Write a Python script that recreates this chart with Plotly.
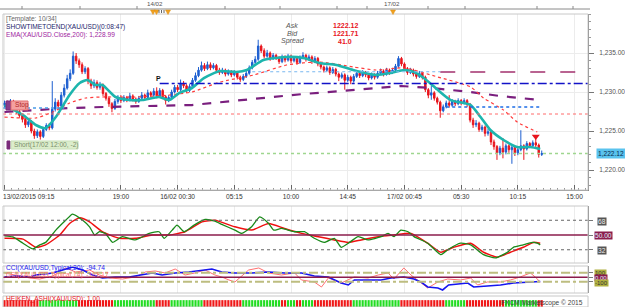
import plotly.graph_objects as go

W, H = 625, 307
def px(x): return x / W
def py(y): return 1 - y / H

FONT = "Liberation Sans, Arial, sans-serif"
X0, X1 = 3, 588
XR = [-0.5, 195.5]

# ---------------- data ----------------
tick_idx = [0, 39, 58, 77, 96, 115, 134, 153, 172, 191]
tick_text = ["13/02/2015 09:15", "19:00", "16/02 00:30", "05:15", "10:00",
             "14:45", "17/02 00:45", "05:30", "10:15", "15:00"]
price_ticks = [1220, 1225, 1230, 1235]
price_tick_text = ["1,220.00", "1,225.00", "1,230.00", "1,235.00"]

opens = [
1228.3, 1228.6, 1228.3, 1228.8, 1228.2, 1227.5, 1227.0, 1226.5, 1225.8, 1226.2,
1225.0, 1224.4, 1224.9, 1224.3, 1225.2, 1225.7, 1225.4, 1227.8, 1228.7, 1228.2,
1229.6, 1230.5, 1231.7, 1232.4, 1234.6, 1234.0, 1233.5, 1232.6, 1233.0, 1231.4,
1230.8, 1231.2, 1230.6, 1230.9, 1229.8, 1229.2, 1228.5, 1227.9, 1228.8, 1229.3,
1228.9, 1229.3, 1229.0, 1229.5, 1229.1, 1228.8, 1229.2, 1229.6, 1229.3, 1229.9,
1229.6, 1230.1, 1229.5, 1230.2, 1229.4, 1228.9, 1229.3, 1230.0, 1230.6, 1230.3,
1231.1, 1230.8, 1230.2, 1230.7, 1231.5, 1232.1, 1232.8, 1233.4, 1233.0, 1233.5,
1233.1, 1233.4, 1232.8, 1232.5, 1232.8, 1232.3, 1232.6, 1232.2, 1232.5, 1231.9,
1231.6, 1232.0, 1232.4, 1233.1, 1233.8, 1234.2, 1235.9, 1235.3, 1234.6, 1235.0,
1234.3, 1234.7, 1234.4, 1233.9, 1234.5, 1234.1, 1234.6, 1234.0, 1234.3, 1233.8,
1234.4, 1234.7, 1234.2, 1234.5, 1233.9, 1234.3, 1233.6, 1233.2, 1232.8, 1233.1,
1232.5, 1232.9, 1232.3, 1231.9, 1232.2, 1231.5, 1231.9, 1231.4, 1232.0, 1232.4,
1232.1, 1232.5, 1232.2, 1231.8, 1232.2, 1231.9, 1232.4, 1232.7, 1232.3, 1232.8,
1232.5, 1232.8, 1233.3, 1234.3, 1233.6, 1233.0, 1232.5, 1232.8, 1232.3, 1232.0,
1232.4, 1231.9, 1230.3, 1229.6, 1229.9, 1229.2, 1228.7, 1227.6, 1228.1, 1228.6,
1228.3, 1228.8, 1228.5, 1228.9, 1228.6, 1228.9, 1228.4, 1226.4, 1225.8, 1226.0,
1225.2, 1225.5, 1224.7, 1224.9, 1223.6, 1223.0, 1222.2, 1222.8, 1222.3, 1223.1,
1222.6, 1222.9, 1222.2, 1222.6, 1223.1, 1222.7, 1223.4, 1223.1, 1223.5, 1223.2,
1222.0]
highs = [
1228.9, 1228.9, 1229.1, 1229.0, 1228.4, 1227.8, 1227.2, 1226.7, 1226.5, 1226.4,
1225.3, 1225.2, 1225.1, 1225.5, 1226.0, 1226.0, 1231.4, 1229.2, 1229.0, 1230.0,
1231.0, 1232.2, 1232.9, 1235.2, 1235.0, 1234.3, 1233.8, 1233.3, 1233.2, 1231.7,
1231.6, 1231.5, 1231.3, 1231.1, 1230.0, 1229.4, 1228.7, 1229.1, 1229.6, 1229.6,
1229.6, 1229.5, 1229.9, 1229.7, 1229.3, 1229.5, 1230.0, 1229.8, 1230.3, 1230.1,
1230.5, 1230.6, 1230.5, 1230.4, 1229.6, 1229.6, 1230.3, 1230.9, 1230.9, 1231.6,
1231.4, 1231.0, 1231.0, 1231.8, 1232.5, 1233.2, 1233.9, 1233.7, 1233.9, 1233.8,
1233.7, 1233.6, 1233.1, 1233.1, 1233.0, 1232.9, 1232.8, 1232.8, 1232.7, 1232.1,
1232.3, 1232.7, 1233.4, 1234.1, 1234.6, 1236.7, 1236.1, 1235.6, 1235.4, 1235.2,
1235.0, 1234.9, 1234.6, 1234.8, 1234.7, 1234.9, 1234.8, 1234.6, 1234.5, 1234.7,
1235.1, 1234.9, 1234.8, 1234.7, 1234.6, 1234.5, 1233.8, 1233.4, 1233.4, 1233.3,
1233.2, 1233.1, 1232.5, 1232.5, 1232.4, 1232.2, 1232.1, 1232.3, 1232.7, 1232.6,
1232.8, 1232.7, 1232.4, 1232.5, 1232.4, 1232.7, 1233.0, 1232.9, 1233.1, 1233.0,
1233.1, 1233.6, 1234.6, 1234.5, 1233.8, 1233.2, 1233.1, 1233.0, 1232.5, 1232.7,
1232.6, 1232.1, 1230.5, 1230.8, 1230.1, 1229.4, 1228.9, 1228.4, 1228.9, 1229.6,
1229.1, 1229.0, 1229.2, 1229.1, 1229.2, 1229.1, 1228.6, 1226.7, 1226.4, 1226.2,
1225.8, 1225.7, 1225.3, 1225.1, 1223.9, 1223.2, 1223.1, 1224.1, 1223.4, 1223.3,
1223.2, 1223.1, 1222.9, 1225.1, 1223.3, 1223.7, 1223.6, 1223.8, 1224.0, 1223.4,
1222.5]
lows = [
1228.0, 1228.0, 1228.1, 1227.9, 1227.2, 1226.7, 1226.1, 1225.4, 1225.5, 1224.7,
1224.0, 1224.1, 1223.9, 1224.1, 1225.0, 1225.1, 1225.2, 1227.5, 1227.8, 1228.0,
1229.3, 1230.3, 1231.4, 1232.2, 1233.6, 1233.1, 1232.3, 1232.3, 1231.0, 1230.4,
1230.5, 1230.3, 1230.3, 1229.5, 1228.9, 1228.1, 1227.4, 1227.7, 1228.5, 1228.6,
1228.7, 1228.7, 1228.8, 1228.8, 1228.5, 1228.6, 1229.0, 1229.0, 1229.1, 1229.3,
1229.4, 1229.2, 1229.3, 1229.1, 1228.4, 1228.7, 1229.1, 1229.8, 1230.0, 1230.1,
1230.5, 1229.9, 1230.0, 1230.5, 1231.3, 1231.9, 1232.6, 1232.7, 1232.8, 1232.8,
1232.9, 1232.5, 1232.2, 1232.3, 1232.0, 1232.1, 1231.9, 1232.0, 1231.6, 1231.3,
1231.4, 1231.8, 1232.2, 1232.9, 1233.6, 1234.0, 1235.0, 1234.3, 1234.4, 1234.0,
1234.1, 1234.1, 1233.6, 1233.7, 1233.8, 1233.9, 1233.7, 1233.8, 1233.5, 1233.6,
1234.2, 1233.9, 1234.0, 1233.6, 1233.7, 1233.3, 1232.9, 1232.5, 1232.6, 1232.2,
1232.3, 1232.0, 1231.4, 1231.7, 1230.3, 1231.3, 1231.0, 1231.2, 1231.8, 1231.8,
1231.9, 1231.9, 1231.5, 1231.6, 1231.6, 1231.7, 1232.2, 1232.0, 1232.1, 1232.2,
1232.3, 1232.6, 1233.1, 1233.3, 1232.7, 1232.2, 1232.3, 1232.0, 1231.7, 1231.8,
1231.6, 1230.0, 1229.2, 1229.0, 1228.9, 1228.4, 1226.7, 1227.4, 1227.9, 1228.0,
1228.1, 1228.2, 1228.3, 1228.3, 1228.4, 1228.1, 1226.1, 1225.4, 1225.5, 1224.9,
1224.9, 1224.3, 1224.4, 1223.2, 1222.6, 1221.3, 1221.9, 1221.5, 1222.0, 1222.2,
1220.8, 1221.8, 1221.9, 1222.4, 1221.3, 1222.5, 1222.8, 1222.9, 1222.9, 1221.6,
1221.8]
closes = [
1228.6, 1228.3, 1228.8, 1228.2, 1227.5, 1227.0, 1226.5, 1225.8, 1226.2, 1225.0,
1224.4, 1224.9, 1224.3, 1225.2, 1225.7, 1225.4, 1227.8, 1228.7, 1228.2, 1229.6,
1230.5, 1231.7, 1232.4, 1234.6, 1234.0, 1233.5, 1232.6, 1233.0, 1231.4, 1230.8,
1231.2, 1230.6, 1230.9, 1229.8, 1229.2, 1228.5, 1227.9, 1228.8, 1229.3, 1228.9,
1229.3, 1229.0, 1229.5, 1229.1, 1228.8, 1229.2, 1229.6, 1229.3, 1229.9, 1229.6,
1230.1, 1229.5, 1230.2, 1229.4, 1228.9, 1229.3, 1230.0, 1230.6, 1230.3, 1231.1,
1230.8, 1230.2, 1230.7, 1231.5, 1232.1, 1232.8, 1233.4, 1233.0, 1233.5, 1233.1,
1233.4, 1232.8, 1232.5, 1232.8, 1232.3, 1232.6, 1232.2, 1232.5, 1231.9, 1231.6,
1232.0, 1232.4, 1233.1, 1233.8, 1234.2, 1235.9, 1235.3, 1234.6, 1235.0, 1234.3,
1234.7, 1234.4, 1233.9, 1234.5, 1234.1, 1234.6, 1234.0, 1234.3, 1233.8, 1234.4,
1234.7, 1234.2, 1234.5, 1233.9, 1234.3, 1233.6, 1233.2, 1232.8, 1233.1, 1232.5,
1232.9, 1232.3, 1231.9, 1232.2, 1231.5, 1231.9, 1231.4, 1232.0, 1232.4, 1232.1,
1232.5, 1232.2, 1231.8, 1232.2, 1231.9, 1232.4, 1232.7, 1232.3, 1232.8, 1232.5,
1232.8, 1233.3, 1234.3, 1233.6, 1233.0, 1232.5, 1232.8, 1232.3, 1232.0, 1232.4,
1231.9, 1230.3, 1229.6, 1229.9, 1229.2, 1228.7, 1227.6, 1228.1, 1228.6, 1228.3,
1228.8, 1228.5, 1228.9, 1228.6, 1228.9, 1228.4, 1226.4, 1225.8, 1226.0, 1225.2,
1225.5, 1224.7, 1224.9, 1223.6, 1223.0, 1222.2, 1222.8, 1222.3, 1223.1, 1222.6,
1222.9, 1222.2, 1222.6, 1223.1, 1222.7, 1223.4, 1223.1, 1223.5, 1223.2, 1222.0,
1222.12]

# short EMA (cyan)
ema_fast_i = [0, 6.2, 10.5, 13.8, 17.2, 21.8, 25.2, 27.8, 30.5, 32.8, 37.2, 41.8, 46.2,
              51.8, 55.2, 58.5, 62.8, 66.8, 72.2, 77.8, 81.2, 86.8, 94.5, 100.2, 105.5,
              111.2, 116.8, 124.5, 129.5, 133.8, 137.2, 140.5, 145.2, 149.5, 156.2,
              159.5, 162.8, 167.2, 171.8, 176.2, 179.5]
ema_fast_v = [1228.33, 1227.05, 1225.77, 1225.38, 1226.79, 1229.62, 1231.15, 1231.54,
              1230.90, 1230.90, 1229.36, 1228.97, 1228.97, 1229.36, 1228.97, 1229.87,
              1230.51, 1231.79, 1232.69, 1232.56, 1232.82, 1234.10, 1234.49, 1234.36,
              1233.72, 1233.46, 1232.82, 1232.18, 1232.44, 1232.82, 1232.56, 1231.79,
              1230.26, 1228.97, 1228.33, 1226.79, 1225.13, 1223.85, 1222.95, 1222.95,
              1222.69]
# medium EMA (red dotted)
ema_mid_i = [0, 10.5, 16.2, 21.8, 27.2, 32.8, 43.8, 55.2, 62.8, 72.2, 83.5, 94.5,
             105.5, 116.8, 124.5, 133.8, 145.2, 156.2, 160.5, 167.2, 171.8, 178.5]
ema_mid_v = [1226.79, 1226.67, 1227.44, 1228.59, 1229.23, 1229.36, 1229.36, 1229.62,
             1230.0, 1231.28, 1232.18, 1233.46, 1233.85, 1233.21, 1232.82, 1233.08,
             1231.92, 1230.64, 1229.23, 1227.69, 1226.15, 1224.87]
# EMA 200 (purple dashed)
ema200_i = [0, 10.5, 22, 33, 50, 62.8, 83, 100, 113, 124.5, 133, 143, 156.2, 166, 179]
ema200_v = [1227.44, 1227.69, 1227.95, 1228.08, 1228.21, 1228.33, 1229.1, 1229.74,
            1230.13, 1230.51, 1230.77, 1230.51, 1230.0, 1229.49, 1228.99]

# oscillator pane (green fast / red slow)
osc_fast_i = [0, 2.8, 6.2, 9.5, 11.8, 13.8, 17.2, 20.5, 22.8, 26.2, 28.5, 30.2, 31.8,
              33.8, 36.2, 39.5, 43.8, 48.5, 51.8, 53.5, 56.2, 57.8, 60.2, 63.5, 67.2,
              70.5, 72.8, 77.2, 79.5, 82.8, 85.5, 88.5, 90.2, 92.8, 97.2, 100.5, 103.8,
              107.2, 110.5, 112.8, 115.2, 118.5, 121.8, 126.2, 128.5, 130.5, 132.8,
              135.2, 137.2, 141.8, 146.2, 148.5, 152.8, 156.2, 160.5, 164.5, 168.5,
              170.5, 173.8, 176.8, 178.5, 179.5]
osc_fast_v = [49, 47.6, 40, 33, 38, 41, 56, 68, 75.6, 68, 60, 50, 54, 52, 41, 48, 44,
              52, 54, 46, 56, 62, 54, 62, 69, 67, 63, 56, 52, 60, 72, 64, 56, 58, 54,
              54, 46, 41, 46, 35, 40, 48, 44, 48, 52, 48, 56, 54, 48, 40, 26, 32, 40,
              38, 26, 22, 29, 35, 38, 41, 40, 38]
osc_slow_i = [0, 6.2, 10.5, 13.8, 18.5, 21.8, 25.2, 28.5, 32.8, 38.5, 43.8, 49.5, 55.2,
              60.5, 66.2, 70.5, 77.2, 82.8, 88.5, 93.8, 99.5, 105.2, 110.5, 115.2,
              119.5, 125.2, 130.5, 136.2, 141.8, 146.2, 150.5, 156.2, 160.5, 165.2,
              169.5, 173.8, 177.2, 179.5]
osc_slow_v = [46, 45, 35, 38, 50, 64, 71, 66, 54, 46, 46, 50, 50, 54, 66, 68, 60, 56,
              64, 58, 52, 48, 44, 41, 44, 48, 50, 52, 40, 29, 35, 40, 29, 23, 29, 35,
              41, 40]
osc_levels = [32, 50, 68]

# CCI pane
cci20_i = [0, 3.8, 8.5, 10.5, 16.2, 19.5, 22.8, 26.2, 29.5, 32.8, 37.2, 41.8, 46.2,
           49.5, 52.8, 57.2, 61.8, 66.2, 69.5, 72.8, 77.2, 82.8, 88.5, 93.8, 99.5,
           103.8, 108.5, 112.8, 115.2, 117.2, 121.8, 126.2, 129.5, 133.8, 137.2, 139.5,
           141.8, 145.2, 146.8, 148.8, 155.2, 157.2, 161.8, 166.2, 170.5, 175.2, 179.5]
cci20_v = [7, 29, 7, 51, 96, 162, 229, 162, 51, -16, 7, 7, 51, 96, 51, 96, 118, 162,
           184, 118, 96, 96, 118, 96, 96, 29, 7, -127, -171, -60, -60, -60, -16, 7,
           -38, -104, -216, -238, -282, -171, -127, -216, -193, -171, -127, -104, -94.74]
cci14_i = [0, 3.8, 8.5, 11.8, 16.2, 20.5, 23.8, 28.5, 31.8, 35.2, 39.5, 43.8, 47.2,
           50.5, 53.8, 57.2, 60.5, 63.8, 67.2, 70.5, 72.8, 75.2, 77.2, 81.8, 85.2,
           88.5, 92.8, 97.2, 99.5, 103.8, 106.2, 108.5, 112.8, 117.2, 121.8, 125.2,
           128.5, 130.5, 133.8, 136.2, 138.5, 141.8, 145.2, 148.5, 152.8, 156.2, 158.5,
           161.8, 166.2, 169.5, 172.8, 176.2, 177.8, 179.5]
cci14_v = [96, 51, -16, -38, 29, 207, 118, 162, 51, -16, -38, 7, 118, 140, 96, 184, 51,
           96, 162, 51, 7, -60, -104, 162, 207, 96, 51, 96, -60, -104, -216, -16, -127,
           7, -16, 51, 96, -38, 207, 51, -60, -238, -104, -38, -60, -16, -171, -104,
           -104, -60, 7, 96, 7, -104]
cci_levels = [-100, 0, 100]

# Heiken Ashi direction per candle (G = up, R = down)
ha_dir = ("RRRR" "RRRRRRRR" "GGGGGGGGGGGGG" "RRRRRRRRRRRR" "GGGGGGGGGGGGGG" "RRRRR"
          "GGGGGGGGGGG" "RRRRRRRRRRRRR" "GGGGGGGGGGG" "GGRRGGGRRGGGGR" "RRRRRRRRRRRR"
          "GGGGGGGGGGGGGGGG" "RRRRRRRRRRRRRRR" "GGGGGGG" "RRRRRRRRRRRRR" "GGGGGGGGGGG" "RR")

# horizontal levels on the price pane
stop_level = 1227.18
short_level = 1222.12
p_level = 1231.09
maroon_level = 1232.56
blue_dot_level = 1228.08
left_dot_level = 1227.95
lightblue_level = 1232.6
last_price = 1222.12

# ---------------- figure ----------------
n = len(closes)
idx = list(range(n))
fig = go.Figure()

fig.add_trace(go.Scatter(x=ema200_i, y=ema200_v, mode="lines",
                         line=dict(color="#7a1f7e", width=2.2, dash="dash"),
                         hoverinfo="skip", showlegend=False, xaxis="x", yaxis="y"))
fig.add_trace(go.Candlestick(
    x=idx, open=opens, high=highs, low=lows, close=closes,
    increasing=dict(line=dict(color="#1d5fd0", width=1), fillcolor="#1d5fd0"),
    decreasing=dict(line=dict(color="#e8141c", width=1), fillcolor="#e8141c"),
    whiskerwidth=0, showlegend=False, xaxis="x", yaxis="y"))
fig.add_trace(go.Scatter(x=ema_mid_i, y=ema_mid_v, mode="lines",
                         line=dict(color="#ff3b3b", width=1.2, dash="dot", shape="spline", smoothing=0.6),
                         hoverinfo="skip", showlegend=False, xaxis="x", yaxis="y"))
fig.add_trace(go.Scatter(x=ema_fast_i, y=ema_fast_v, mode="lines",
                         line=dict(color="#1db5ad", width=2.6, shape="spline", smoothing=0.6),
                         hoverinfo="skip", showlegend=False, xaxis="x", yaxis="y"))
# short-entry arrow marker
fig.add_trace(go.Scatter(x=[178], y=[1224.3], mode="markers",
                         marker=dict(symbol="triangle-down", size=7, color="#e8141c"),
                         hoverinfo="skip", showlegend=False, xaxis="x", yaxis="y"))

# oscillator
fig.add_trace(go.Scatter(x=osc_slow_i, y=osc_slow_v, mode="lines",
                         line=dict(color="#f01010", width=1.5, shape="spline", smoothing=0.5),
                         hoverinfo="skip", showlegend=False, xaxis="x2", yaxis="y2"))
fig.add_trace(go.Scatter(x=osc_fast_i, y=osc_fast_v, mode="lines",
                         line=dict(color="#1a8a1a", width=1.3, shape="spline", smoothing=0.5),
                         hoverinfo="skip", showlegend=False, xaxis="x2", yaxis="y2"))
# CCI
fig.add_trace(go.Scatter(x=cci14_i, y=cci14_v, mode="lines",
                         line=dict(color="#ff7070", width=1),
                         hoverinfo="skip", showlegend=False, xaxis="x3", yaxis="y3"))
fig.add_trace(go.Scatter(x=cci20_i, y=cci20_v, mode="lines",
                         line=dict(color="#1515f0", width=1.6),
                         hoverinfo="skip", showlegend=False, xaxis="x3", yaxis="y3"))
# Heiken Ashi strip
ha_colors = ["#22dd22" if c == "G" else "#f01818" for c in ha_dir[:n]]
fig.add_trace(go.Bar(x=idx[:len(ha_colors)], y=[1] * len(ha_colors),
                     marker=dict(color=ha_colors, line=dict(width=0)),
                     width=0.72, hoverinfo="skip", showlegend=False, xaxis="x4", yaxis="y4"))

shapes = []
def hline(xref, yref, y, x0, x1, color, width, dash):
    shapes.append(dict(type="line", xref=xref, yref=yref, x0=x0, x1=x1, y0=y, y1=y,
                       line=dict(color=color, width=width, dash=dash)))

hline("x", "y", stop_level, XR[0], XR[1], "#ff6a6a", 1, "dot")
hline("x", "y", short_level, XR[0], XR[1], "#9fd68f", 1.3, "dot")
hline("x", "y", p_level, 52, XR[1], "#1212c8", 1.5, "dashdot")
hline("x", "y", maroon_level, 146, XR[1], "#a3306e", 1.5, "longdash")
hline("x", "y", lightblue_level, 83, 146, "#7ab8f0", 1.2, "dot")
hline("x", "y", blue_dot_level, 148, 180, "#1e6ee6", 1.3, "dot")
hline("x", "y", left_dot_level, XR[0], 20, "#4a9ae8", 1.3, "dot")
for lv in osc_levels:
    if lv == 50:
        hline("x2", "y2", lv, XR[0], XR[1], "#8b1c4c", 1.5, "solid")
    else:
        hline("x2", "y2", lv, XR[0], XR[1], "#666666", 1, "dot")
for lv in cci_levels:
    if lv == 0:
        hline("x3", "y3", lv, XR[0], XR[1], "#8b1c4c", 1.5, "solid")
    else:
        hline("x3", "y3", lv, XR[0], XR[1], "#bdbd80", 2, "dashdot")

def rect(x0, y0, x1, y1, line="#c8c8c8", fill=None, lw=1):
    d = dict(type="rect", xref="paper", yref="paper", x0=px(x0), x1=px(x1), y0=py(y1), y1=py(y0),
             line=dict(color=line, width=lw))
    if fill:
        d["fillcolor"] = fill
    shapes.append(d)

# pane frames
rect(X0, 14, X1, 190)
rect(X0, 206, X1, 263)
rect(X0, 266, X1, 293)
rect(X0, 296, X1, 307)
# top time strip
shapes.append(dict(type="line", xref="paper", yref="paper", x0=0, x1=px(590), y0=py(9), y1=py(9),
                   line=dict(color="#8a8a8a", width=1)))
for tx in [22, 80, 137, 225, 280, 337, 367, 428, 465, 537, 573]:
    shapes.append(dict(type="line", xref="paper", yref="paper", x0=px(tx), x1=px(tx), y0=py(9), y1=py(6),
                       line=dict(color="#8a8a8a", width=1)))
for tx in [153, 156.5, 168, 393]:
    path = "M {:.5f},{:.5f} L {:.5f},{:.5f} L {:.5f},{:.5f} Z".format(
        px(tx - 2.5), py(10), px(tx + 2.5), py(10), px(tx), py(14.5))
    shapes.append(dict(type="path", xref="paper", yref="paper", path=path,
                       fillcolor="#f0a020", line=dict(color="#e09010", width=0.5)))
for tx in [159, 161.5, 164]:
    shapes.append(dict(type="line", xref="paper", yref="paper", x0=px(tx), x1=px(tx), y0=py(10), y1=py(13),
                       line=dict(color="#666", width=1)))
# Stop / Short labels boxes
rect(6, 101, 11, 110, line="#7a2a7a", fill="#8a3c8a")
rect(11, 101, 28, 110, line="#e07070", fill="#f4a0a0")
rect(7, 141, 10, 149, line="#7a2a7a", fill="#7a2a7a")
rect(11, 141, 78, 149, line="#c8e0b8", fill="#dcedcc")

ann = []
def text(x, y, s, color="#333", size=6.6, anchor="left", italic=False, bold=False, bg=None):
    t = s
    if bold:
        t = "<b>" + t + "</b>"
    if italic:
        t = "<i>" + t + "</i>"
    a = dict(xref="paper", yref="paper", x=px(x), y=py(y), text=t, showarrow=False,
             xanchor=anchor, yanchor="middle", font=dict(family=FONT, size=size, color=color))
    if bg:
        a["bgcolor"] = bg
        a["borderpad"] = 0
    ann.append(a)

text(4, 19, "[Template: 10/34]", "#666")
text(4, 27, "SHOWTIMETOEND(XAU/USD)(0:08:47)", "#1c1c6a")
text(4, 35, "EMA(XAU/USD.Close,200): 1,228.99", "#a01ea0")
text(300, 25, "Ask", "#555", 7, "right", italic=True)
text(300, 33, "Bid", "#555", 7, "right", italic=True)
text(307, 41, "Spread", "#555", 7, "right", italic=True)
text(345, 25, "1222.12", "#e8141c", 7, "center", bold=True)
text(345, 33, "1221.71", "#e8141c", 7, "center", bold=True)
text(345, 41, "41.0", "#e8141c", 7, "center", bold=True)
text(13, 105.5, "Stop", "#b02828", 6.6)
text(12, 145, "Short(17/02 12:00, -2)", "#7a8f6a", 6.6)
text(1, 197, tick_text[0], "#333")
text(155, 3.5, "14/02", "#555", 6.2, "center")
text(392, 3.5, "17/02", "#555", 6.2, "center")
text(4, 275, "CCI(XAU/USD,Typical,14): -101.17", "#ff7070")
text(4, 268, "CCI(XAU/USD,Typical,20): -94.74", "#1a1af0")
text(4, 299, "HEIKEN_ASHI(XAU/USD): 1.00", "#e8141c")
text(585, 303, "FXCM Marketscope © 2015", "#444", 6.6, "right")
# right-side level labels
text(597, 221, "68", "#eee", 6.6, bg="#555")
text(594, 235, "50.00", "#e0f0ff", 6.6, bg="#8b1c4c")
text(597, 250, "32", "#eee", 6.6, bg="#555")
text(594, 272.5, "100", "#333", 6, bg="#b0b040")
text(594, 277.5, "0.00", "#e0f0ff", 6, bg="#8b1c4c")
text(594, 282.5, "-100", "#333", 6, bg="#b0b040")
# P marker and current price
ann.append(dict(xref="x", yref="y", x=51.5, y=p_level, text="<b>P</b>", showarrow=False,
                xanchor="center", yanchor="bottom", font=dict(family=FONT, size=7, color="#111")))
ann.append(dict(xref="paper", yref="y", x=px(596), y=last_price, text="1,222.12", showarrow=False,
                xanchor="left", yanchor="middle", bgcolor="#5ac3ee", borderpad=1,
                font=dict(family=FONT, size=6.6, color="#0a2a4a")))

tick_disp = [""] + tick_text[1:]
common_x = dict(range=XR, tickmode="array", tickvals=tick_idx, showgrid=True, gridcolor="#ececec",
                zeroline=False, fixedrange=True, domain=[px(X0), px(X1)])

fig.update_layout(
    width=W, height=H, margin=dict(l=0, r=0, t=0, b=0),
    paper_bgcolor="white", plot_bgcolor="white", showlegend=False,
    font=dict(family=FONT, size=6.6, color="#333"),
    xaxis=dict(**common_x, anchor="y", rangeslider=dict(visible=False), ticktext=tick_disp,
               ticks="inside", ticklen=5, tickcolor="#666", showline=True, linecolor="#888",
               tickfont=dict(size=6.6, color="#333"),
               minor=dict(ticks="inside", ticklen=2, tickcolor="#999", tickmode="linear", tick0=0, dtick=19 / 8)),
    yaxis=dict(domain=[py(190), py(14)], range=[1217.44, 1240.0], side="right", anchor="x",
               tickmode="array", tickvals=price_ticks, ticktext=price_tick_text, ticks="outside", ticklen=5,
               tickcolor="#777", showline=True, linecolor="#777", showgrid=True, gridcolor="#ececec",
               zeroline=False, tickfont=dict(size=6.6, color="#555"), ticklabelstandoff=4,
               minor=dict(ticks="outside", ticklen=2, tickcolor="#999", tickmode="linear", tick0=1220, dtick=1)),
    xaxis2=dict(**common_x, anchor="y2", matches="x", showticklabels=False, ticks=""),
    yaxis2=dict(domain=[py(263), py(206)], range=[15.85, 85.4], side="right", anchor="x2",
                tickmode="array", tickvals=osc_levels, showticklabels=False, ticks="outside", ticklen=4,
                tickcolor="#777", showline=True, linecolor="#777", showgrid=False, zeroline=False),
    xaxis3=dict(**common_x, anchor="y3", matches="x", showticklabels=False, ticks=""),
    yaxis3=dict(domain=[py(293), py(266)], range=[-349, 251], side="right", anchor="x3",
                tickmode="array", tickvals=cci_levels, showticklabels=False, ticks="outside", ticklen=4,
                tickcolor="#777", showline=True, linecolor="#777", showgrid=False, zeroline=False),
    xaxis4=dict(**common_x, anchor="y4", matches="x", showticklabels=False, ticks="", visible=False),
    yaxis4=dict(domain=[0, py(296)], range=[0, 1.6], anchor="x4", visible=False),
    shapes=shapes, annotations=ann, bargap=0.2,
)

fig.write_html("out.html")
